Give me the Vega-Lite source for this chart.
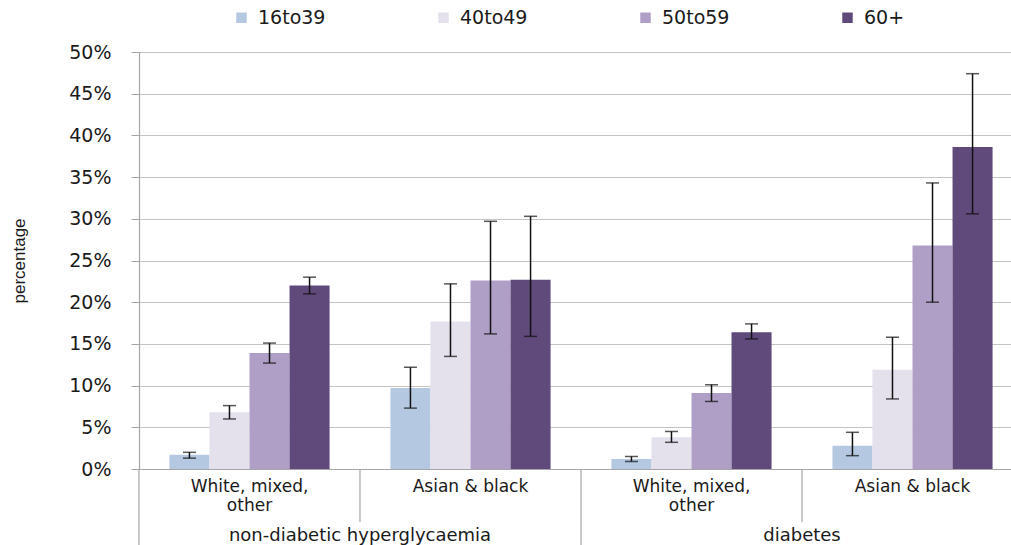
{
  "$schema": "https://vega.github.io/schema/vega-lite/v6.json",
  "width": 884,
  "height": 417,
  "autosize": {"type": "none"},
  "padding": {"left": 139, "top": 52, "right": 0, "bottom": 76},
  "background": "white",
  "config": {
    "view": {"stroke": null},
    "axis": {"labelColor": "#1a1a1a", "titleColor": "#1a1a1a"}
  },
  "datasets": {
    "rates": [
      {"group": "ndh_wmo", "age": "16to39", "pct": 1.7, "lo": 1.3, "hi": 2.0},
      {"group": "ndh_wmo", "age": "40to49", "pct": 6.8, "lo": 6.0, "hi": 7.6},
      {"group": "ndh_wmo", "age": "50to59", "pct": 13.9, "lo": 12.7, "hi": 15.1},
      {"group": "ndh_wmo", "age": "60+", "pct": 22.0, "lo": 21.0, "hi": 23.0},
      {"group": "ndh_ab", "age": "16to39", "pct": 9.7, "lo": 7.3, "hi": 12.2},
      {"group": "ndh_ab", "age": "40to49", "pct": 17.7, "lo": 13.5, "hi": 22.2},
      {"group": "ndh_ab", "age": "50to59", "pct": 22.6, "lo": 16.2, "hi": 29.7},
      {"group": "ndh_ab", "age": "60+", "pct": 22.7, "lo": 15.9, "hi": 30.3},
      {"group": "dia_wmo", "age": "16to39", "pct": 1.2, "lo": 0.9, "hi": 1.5},
      {"group": "dia_wmo", "age": "40to49", "pct": 3.8, "lo": 3.2, "hi": 4.5},
      {"group": "dia_wmo", "age": "50to59", "pct": 9.1, "lo": 8.1, "hi": 10.1},
      {"group": "dia_wmo", "age": "60+", "pct": 16.4, "lo": 15.6, "hi": 17.4},
      {"group": "dia_ab", "age": "16to39", "pct": 2.8, "lo": 1.6, "hi": 4.4},
      {"group": "dia_ab", "age": "40to49", "pct": 11.9, "lo": 8.4, "hi": 15.8},
      {"group": "dia_ab", "age": "50to59", "pct": 26.8, "lo": 20.0, "hi": 34.3},
      {"group": "dia_ab", "age": "60+", "pct": 38.6, "lo": 30.6, "hi": 47.4}
    ],
    "groups": [
      {"group": "ndh_wmo", "condition": "non-diabetic hyperglycaemia", "level": "outer"},
      {"group": "ndh_ab", "condition": "", "level": "inner"},
      {"group": "dia_wmo", "condition": "diabetes", "level": "outer"},
      {"group": "dia_ab", "condition": "", "level": "inner"}
    ]
  },
  "layer": [
    {
      "data": {"name": "rates"},
      "mark": {"type": "bar"},
      "encoding": {
        "x": {
          "field": "group", "type": "nominal",
          "scale": {"domain": ["ndh_wmo", "ndh_ab", "dia_wmo", "dia_ab"], "paddingInner": 0, "paddingOuter": 0},
          "axis": {
            "title": null,
            "labelExpr": "indexof(datum.value,'wmo')>=0 ? ['White, mixed,','other'] : 'Asian & black'",
            "labelFont": "DejaVu Sans", "labelFontSize": 17, "labelLineHeight": 19,
            "labelAngle": 0, "labelPadding": 9, "ticks": false,
            "domainColor": "#a6a6a6", "domainWidth": 1.2
          }
        },
        "xOffset": {"field": "age", "type": "nominal", "scale": {"domain": ["16to39", "40to49", "50to59", "60+"], "paddingInner": 0, "paddingOuter": 0.76}},
        "y": {
          "field": "pct", "type": "quantitative",
          "scale": {"domain": [0, 50], "nice": false},
          "axis": {
            "title": "percentage", "values": [0, 5, 10, 15, 20, 25, 30, 35, 40, 45, 50],
            "labelExpr": "datum.value + '%'",
            "labelFont": "DejaVu Sans", "labelFontSize": 19, "labelPadding": 20,
            "tickSize": 8, "tickColor": "#a6a6a6", "domainColor": "#a6a6a6", "domainWidth": 1.2,
            "gridColor": "#c4c4c4", "gridWidth": 1.2,
            "titleFont": "Liberation Sans", "titleFontSize": 17, "titleFontWeight": "normal", "titlePadding": 40
          }
        },
        "color": {
          "field": "age", "type": "nominal",
          "scale": {"domain": ["16to39", "40to49", "50to59", "60+"], "range": ["#b4c9e1", "#e4e0ec", "#af9fc7", "#5f4a7b"]},
          "legend": {
            "title": null, "orient": "none", "legendX": 93, "legendY": -44,
            "direction": "horizontal", "columnPadding": 108,
            "symbolType": "square", "symbolSize": 110, "symbolStrokeWidth": 0,
            "labelFont": "DejaVu Sans", "labelFontSize": 19, "labelColor": "#1a1a1a", "labelOffset": 7
          }
        }
      }
    },
    {
      "data": {"name": "rates"},
      "mark": {"type": "rule", "color": "#111111", "strokeWidth": 1.5},
      "encoding": {
        "x": {"field": "group", "type": "nominal"},
        "xOffset": {"field": "age", "type": "nominal"},
        "y": {"field": "lo", "type": "quantitative"},
        "y2": {"field": "hi"}
      }
    },
    {
      "data": {"name": "rates"},
      "mark": {"type": "tick", "color": "#111111", "thickness": 1.5, "size": 13},
      "encoding": {
        "x": {"field": "group", "type": "nominal"},
        "xOffset": {"field": "age", "type": "nominal"},
        "y": {"field": "lo", "type": "quantitative"}
      }
    },
    {
      "data": {"name": "rates"},
      "mark": {"type": "tick", "color": "#111111", "thickness": 1.5, "size": 13},
      "encoding": {
        "x": {"field": "group", "type": "nominal"},
        "xOffset": {"field": "age", "type": "nominal"},
        "y": {"field": "hi", "type": "quantitative"}
      }
    },
    {
      "data": {"name": "groups"},
      "transform": [{"filter": "datum.level === 'outer'"}],
      "mark": {"type": "rule", "color": "#a6a6a6", "strokeWidth": 1.2},
      "encoding": {
        "x": {"field": "group", "type": "nominal", "bandPosition": 0},
        "y": {"datum": 0},
        "y2": {"datum": -9.2}
      }
    },
    {
      "data": {"name": "groups"},
      "transform": [{"filter": "datum.level === 'inner'"}],
      "mark": {"type": "rule", "color": "#a6a6a6", "strokeWidth": 1.2},
      "encoding": {
        "x": {"field": "group", "type": "nominal", "bandPosition": 0},
        "y": {"datum": 0},
        "y2": {"datum": -6.35}
      }
    },
    {
      "data": {"name": "groups"},
      "transform": [{"filter": "datum.level === 'outer'"}],
      "mark": {"type": "text", "font": "DejaVu Sans", "fontSize": 18, "color": "#1a1a1a", "baseline": "top", "align": "center"},
      "encoding": {
        "x": {"field": "group", "type": "nominal", "bandPosition": 1},
        "y": {"datum": -6.9},
        "text": {"field": "condition"}
      }
    }
  ]
}
